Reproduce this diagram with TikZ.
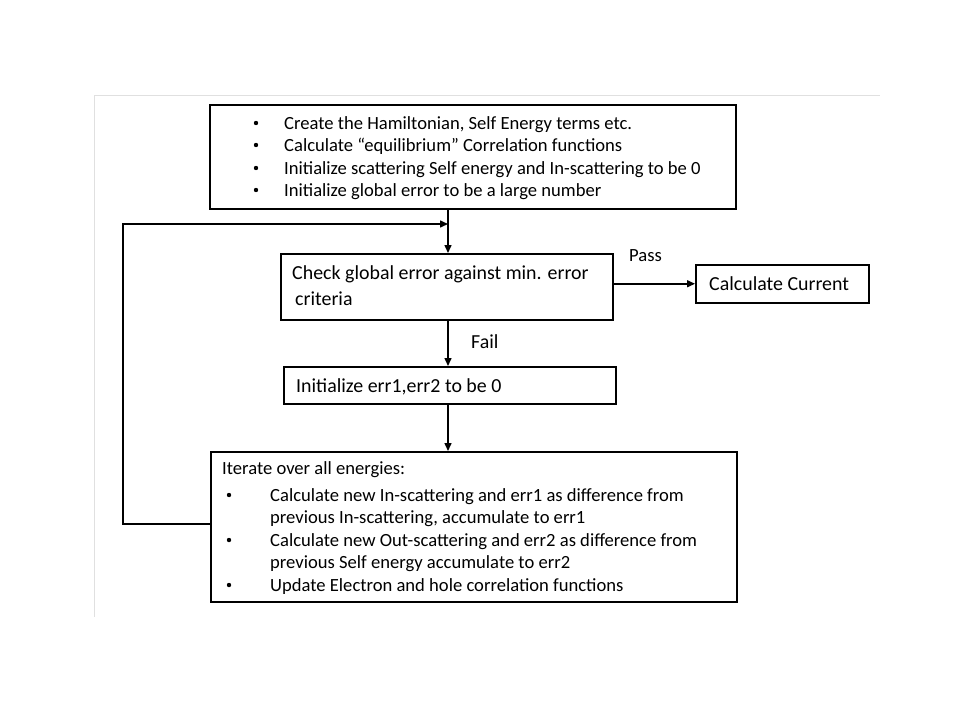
\documentclass[tikz,border=0pt]{standalone}
\usepackage{fontspec}
\setmainfont{Carlito}
\usetikzlibrary{arrows.meta}
\begin{document}
\begin{tikzpicture}[x=1pt,y=-1pt,
  font=\fontsize{18.6}{22}\selectfont,
  big/.style={font=\fontsize{19.9}{24}\selectfont},
  box/.style={draw, line width=1.5pt, inner sep=0pt, anchor=north west},
  txt/.style={anchor=base west, inner sep=0pt},
  bul/.style={circle, fill=black, inner sep=0pt, minimum size=4.4pt},
  conn/.style={line width=1.5pt, -{Triangle[length=8pt,width=7pt]}}]
\useasboundingbox (0,0) rectangle (960,720);
\draw[black!12, line width=1pt] (94,617) -- (94,95) -- (880,95);
% boxes
\node[box, minimum width=526pt, minimum height=104pt] (top) at (209,104) {};
\node[box, minimum width=332pt, minimum height=66pt] (check) at (280,253) {};
\node[box, minimum width=173pt, minimum height=38pt] (cur) at (695,264) {};
\node[box, minimum width=332pt, minimum height=37pt] (init) at (283,366) {};
\node[box, minimum width=526pt, minimum height=150pt] (iter) at (210,451) {};
% texts
\node[bul] (t1b) at (256,123) {};
\node[txt] (t1) at (284,129) {Create the Hamiltonian, Self Energy terms etc.};
\node[bul] (t2b) at (256,145) {};
\node[txt] (t2) at (284,151) {Calculate “equilibrium” Correlation functions};
\node[bul] (t3b) at (256,168) {};
\node[txt] (t3) at (284,174) {Initialize scattering Self energy and In-scattering to be 0};
\node[bul] (t4b) at (256,190) {};
\node[txt] (t4) at (284,196) {Initialize global error to be a large number};
\node[txt, big] (c1) at (292,279) {Check global error against min. error};
\node[txt, big] (c2) at (295,305) {criteria};
\node[txt] (pass) at (629,261) {Pass};
\node[txt, big] (curt) at (709,290) {Calculate Current};
\node[txt, big] (fail) at (471,348) {Fail};
\node[txt, big] (it) at (296,392) {Initialize err1,err2 to be 0};
\node[txt] (i0) at (222,474) {Iterate over all energies:};
\node[bul] (i1b) at (229,495) {};
\node[txt] (i1) at (270,501) {Calculate new In-scattering and err1 as difference from};
\node[txt] (i1c) at (270,523) {previous In-scattering, accumulate to err1};
\node[bul] (i2b) at (229,540) {};
\node[txt] (i2) at (270,546) {Calculate new Out-scattering and err2 as difference from};
\node[txt] (i2c) at (270,568) {previous Self energy accumulate to err2};
\node[bul] (i3b) at (229,585) {};
\node[txt] (i3) at (270,591) {Update Electron and hole correlation functions};
% connectors
\coordinate (j) at (448,224);
\draw[conn] (top.south -| j) -- (check.north -| j);
\draw[conn] (check.south -| j) -- (init.north -| j);
\draw[conn] (init.south -| j) -- (iter.north -| j);
\draw[conn] (check.east |- cur.west) -- (cur.west);
\draw[conn] ([yshift=3pt]iter.west) -- ++(-87,0) |- (j);
\end{tikzpicture}
\end{document}
